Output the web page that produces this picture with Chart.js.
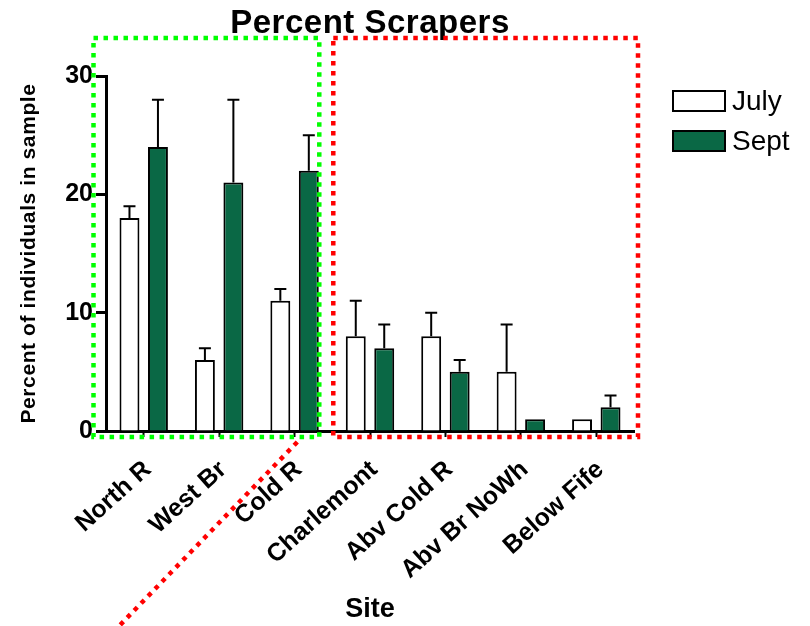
<!DOCTYPE html>
<html>
<head>
<meta charset="utf-8">
<script src="https://cdn.jsdelivr.net/npm/chart.js@4.4.1/dist/chart.umd.min.js"></script>
<style>
  html, body { margin: 0; padding: 0; background: #ffffff; }
  #wrap { width: 810px; height: 626px; }
</style>
</head>
<body>
<div id="wrap"><canvas id="chart" width="810" height="626"></canvas></div>
<script>
// Sites and seasonal means (percent of individuals that are scrapers) with SEM
const sites = ['North R', 'West Br', 'Cold R', 'Charlemont', 'Abv Cold R', 'Abv Br NoWh', 'Below Fife'];
const julyValues = [18, 6, 11, 8, 8, 5, 1];
const julyErrors = [1, 1, 1, 3, 2, 4, 0];
const septValues = [24, 21, 22, 7, 5, 1, 2];
const septErrors = [4, 7, 3, 2, 1, 0, 1];
const yTickValues = [0, 10, 20, 30];

const FONT = '"Liberation Sans", Arial, Helvetica, sans-serif';
Chart.defaults.font.family = FONT;
Chart.defaults.color = '#000000';

// Linear axis whose title is drawn slightly spaced out
class SpacedLinearScale extends Chart.LinearScale {
  static id = 'spacedLinear';
  static defaults = Chart.LinearScale.defaults;
  drawTitle() {
    const ctx = this.ctx;
    ctx.save();
    ctx.letterSpacing = '0.6px';
    super.drawTitle();
    ctx.restore();
  }
}
Chart.register(SpacedLinearScale);

// Upward-only error bars with caps
const errorBars = {
  id: 'errorBars',
  afterDatasetsDraw(chart) {
    const ctx = chart.ctx;
    const yScale = chart.scales.y;
    ctx.save();
    ctx.strokeStyle = '#000000';
    ctx.lineWidth = 2;
    chart.data.datasets.forEach((ds, i) => {
      const meta = chart.getDatasetMeta(i);
      meta.data.forEach((bar, j) => {
        const err = ds.errors[j];
        if (!err) return;
        const top = yScale.getPixelForValue(ds.data[j] + err);
        ctx.beginPath();
        ctx.moveTo(bar.x, bar.y);
        ctx.lineTo(bar.x, top);
        ctx.moveTo(bar.x - 6, top);
        ctx.lineTo(bar.x + 6, top);
        ctx.stroke();
      });
    });
    ctx.restore();
  }
};

// Title, legend and the dotted grouping frames
const decorations = {
  id: 'decorations',
  afterDraw(chart) {
    const ctx = chart.ctx;
    const area = chart.chartArea;
    const x = chart.scales.x;
    const y = chart.scales.y;

    // Title
    ctx.save();
    ctx.font = 'bold 33px ' + FONT;
    ctx.letterSpacing = '0.5px';
    ctx.fillStyle = '#000000';
    ctx.textAlign = 'center';
    ctx.textBaseline = 'alphabetic';
    ctx.fillText('Percent Scrapers', (area.left + area.right) / 2, 33);
    ctx.restore();

    // Legend
    ctx.save();
    chart.data.datasets.forEach((ds, i) => {
      const bx = area.right + 39;
      const by = 91 + i * 40;
      ctx.fillStyle = ds.backgroundColor;
      ctx.fillRect(bx, by, 52, 20);
      ctx.strokeStyle = '#000000';
      ctx.lineWidth = 2;
      ctx.strokeRect(bx, by, 52, 20);
      ctx.fillStyle = '#000000';
      ctx.font = '28px ' + FONT;
      ctx.textAlign = 'left';
      ctx.textBaseline = 'middle';
      ctx.fillText(ds.label, bx + 59, by + 11);
    });
    ctx.restore();

    // Dotted frames around the two site groups
    const half = (x.getPixelForValue(1) - x.getPixelForValue(0)) / 2;
    const top = y.getPixelForValue(30) - 38;
    const bottom = y.getPixelForValue(0) + 6;
    ctx.save();
    ctx.lineWidth = 4.5;
    ctx.setLineDash([4.5, 5.5]);
    ctx.strokeStyle = '#00ff00';
    const gL = x.getPixelForValue(0) - half - 12.5;
    const gR = x.getPixelForValue(2) + half - 13;
    ctx.strokeRect(gL, top, gR - gL, bottom - top);
    ctx.strokeStyle = '#ff0000';
    const rL = x.getPixelForValue(3) - half + 1;
    const rR = x.getPixelForValue(6) + half + 4;
    ctx.strokeRect(rL, top, rR - rL, bottom - top);
    // Diagonal dotted connector
    ctx.beginPath();
    ctx.moveTo(gR - 22, bottom + 5);
    ctx.lineTo(gR - 204, chart.height + 4);
    ctx.stroke();
    ctx.restore();
  }
};

new Chart(document.getElementById('chart'), {
  type: 'bar',
  data: {
    labels: sites,
    datasets: [
      {
        label: 'July',
        data: julyValues,
        errors: julyErrors,
        backgroundColor: '#ffffff',
        borderColor: '#000000',
        borderWidth: 2,
        categoryPercentage: 0.755,
        barPercentage: 0.70
      },
      {
        label: 'Sept',
        data: septValues,
        errors: septErrors,
        backgroundColor: '#0a6845',
        borderColor: '#000000',
        borderWidth: 2,
        categoryPercentage: 0.755,
        barPercentage: 0.70
      }
    ]
  },
  options: {
    responsive: false,
    animation: false,
    devicePixelRatio: 1,
    layout: { padding: { top: 76, right: 176, bottom: 0, left: 0 } },
    plugins: {
      legend: { display: false },
      title: { display: false },
      tooltip: { enabled: false }
    },
    scales: {
      x: {
        type: 'category',
        offset: true,
        grid: {
          display: true,
          offset: false,
          drawOnChartArea: false,
          drawTicks: true,
          tickLength: 6,
          tickWidth: 2,
          color: '#000000'
        },
        border: { display: true, color: '#000000', width: 3 },
        ticks: {
          minRotation: 42,
          maxRotation: 42,
          autoSkip: false,
          padding: 18,
          labelOffset: 4,
          color: '#000000',
          font: { size: 25, weight: 'bold' }
        },
        title: {
          display: true,
          text: 'Site',
          color: '#000000',
          font: { size: 27, weight: 'bold' },
          padding: { top: 0, bottom: 0 }
        },
        afterFit(scale) { scale.height = 195; }
      },
      y: {
        type: 'spacedLinear',
        min: 0,
        max: 30,
        grid: {
          display: true,
          drawOnChartArea: false,
          drawTicks: true,
          tickLength: 10,
          tickWidth: 3,
          color: '#000000'
        },
        border: { display: true, color: '#000000', width: 3 },
        afterBuildTicks(scale) {
          scale.ticks = yTickValues.map(v => ({ value: v }));
        },
        ticks: {
          padding: 3,
          color: '#000000',
          font: { size: 25, weight: 'bold' }
        },
        title: {
          display: true,
          text: 'Percent of individuals in sample',
          color: '#000000',
          font: { size: 21, weight: 'bold' },
          padding: { top: 17, bottom: 0 }
        },
        afterFit(scale) { scale.width = 106; }
      }
    }
  },
  plugins: [errorBars, decorations]
});
</script>
</body>
</html>
